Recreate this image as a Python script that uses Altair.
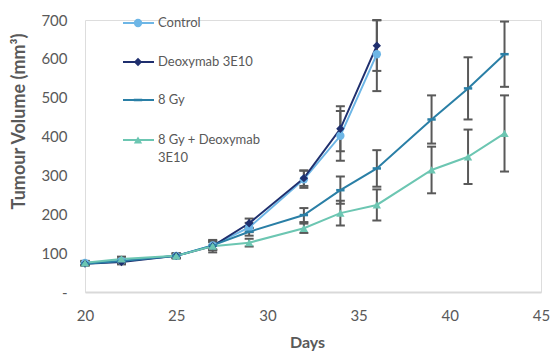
import altair as alt
import pandas as pd

days = [20, 22, 25, 27, 29, 32, 34, 36, 39, 41, 43]
series_names = ["Control", "Deoxymab 3E10", "8 Gy", "8 Gy + Deoxymab 3E10"]
control = [75, 80, 93, 120, 166, 290, 402, 612]
control_err = [5, 6, 6, 12, 12, 22, 64, 95]
deoxy = [73, 77, 93, 118, 177, 293, 420, 634]
deoxy_err = [5, 6, 6, 16, 12, 20, 58, 65]
gy8 = [73, 80, 93, 120, 155, 198, 262, 318, 444, 524, 612]
gy8_err = [5, 6, 6, 10, 10, 18, 35, 47, 62, 80, 84]
combo = [75, 85, 93, 118, 127, 164, 203, 224, 314, 348, 408]
combo_err = [5, 6, 6, 10, 10, 12, 32, 40, 60, 70, 98]

colors = ["#6DB6E6", "#1F2F6E", "#2A7FA6", "#6CC6B2"]
shapes = ["circle", "diamond", "M-1,-0.3H1V0.3H-1Z", "triangle-up"]
sizes = [70, 70, 80, 75]

rows = []
for name, vals, errs in zip(series_names, [control, deoxy, gy8, combo],
                            [control_err, deoxy_err, gy8_err, combo_err]):
    for d, v, e in zip(days, vals, errs):
        rows.append({"series": name, "day": d, "vol": v,
                     "lo": max(v - e, 0), "hi": min(v + e, 700)})
df = pd.DataFrame(rows)

grey = "#595959"
font = "Lato"

xscale = alt.Scale(domain=[20, 45], nice=False, zero=False)
yscale = alt.Scale(domain=[0, 700], nice=False)
xaxis = alt.Axis(values=[20, 25, 30, 35, 40, 45], title="Days", grid=False,
                 ticks=False, domainColor="#D9D9D9", domainWidth=2, labelFlush=False,
                 labelColor=grey, labelFont=font, labelFontSize=15, labelPadding=16,
                 titleColor=grey, titleFont=font, titleFontSize=16, titleFontWeight="bold",
                 titleX=222, titleY=50, titleBaseline="middle", titleAlign="center")
yaxis = alt.Axis(values=[0, 100, 200, 300, 400, 500, 600, 700],
                 labelExpr="datum.value == 0 ? '-' : datum.label",
                 title="Tumour Volume (mm³)", grid=False, ticks=False, domain=False,
                 labelColor=grey, labelFont=font, labelFontSize=15, labelPadding=18,
                 labelFlush=False,
                 titleColor=grey, titleFont=font, titleFontSize=18, titleFontWeight="bold",
                 titleX=-66, titleY=101, titleAngle=-90, titleAlign="center",
                 titleBaseline="middle")

x = alt.X("day:Q", scale=xscale, axis=xaxis)

def yenc(field):
    return alt.Y(field, scale=yscale, axis=yaxis)

color = alt.Color("series:N", scale=alt.Scale(domain=series_names, range=colors), legend=None)
shape = alt.Shape("series:N", scale=alt.Scale(domain=series_names, range=shapes), legend=None)
size = alt.Size("series:N", scale=alt.Scale(domain=series_names, range=sizes), legend=None)

base = alt.Chart(df)
err_rule = base.mark_rule(color=grey, strokeWidth=2, clip=True).encode(
    x=x, y=yenc("lo:Q"), y2="hi:Q")
err_lo = base.mark_tick(color=grey, thickness=2, size=9, orient="horizontal", opacity=1).encode(
    x=x, y=yenc("lo:Q"))
err_hi = base.mark_tick(color=grey, thickness=2, size=9, orient="horizontal", opacity=1).encode(
    x=x, y=yenc("hi:Q"))
lines = base.mark_line(strokeWidth=2).encode(x=x, y=yenc("vol:Q"), color=color, detail="series:N")
pts = base.mark_point(filled=True, opacity=1).encode(
    x=x, y=yenc("vol:Q"), color=color, shape=shape, size=size)

# manual legend
leg_df = pd.DataFrame({"series": series_names, "ly": [3, 42, 80, 120]})
leg_text = pd.DataFrame({"txt": ["Control", "Deoxymab 3E10", "8 Gy", "8 Gy + Deoxymab", "3E10"],
                         "ly": [3, 42, 80, 120, 138]})
lb = alt.Chart(leg_df)
leg_line = lb.mark_rule(strokeWidth=2).encode(
    x=alt.value(38), x2=alt.value(69), y=alt.Y("ly:Q", scale=None), color=color)
leg_pt = lb.mark_point(filled=True, opacity=1).encode(
    x=alt.value(53), y=alt.Y("ly:Q", scale=None), color=color, shape=shape, size=size)
leg_txt = alt.Chart(leg_text).mark_text(align="left", baseline="middle", font=font,
                                        fontSize=13, color=grey).encode(
    x=alt.value(73), y=alt.Y("ly:Q", scale=None), text="txt:N")

chart = alt.layer(err_rule, err_lo, err_hi, lines, pts, leg_line, leg_pt, leg_txt).properties(
    width=456, height=272,
    autosize=alt.AutoSizeParams(type="none"),
    padding={"left": 77, "top": 12, "right": 9, "bottom": 62},
).configure_view(stroke=None).configure(background="white")

chart.save("out.html", embed_options={"renderer": "svg", "actions": False})
